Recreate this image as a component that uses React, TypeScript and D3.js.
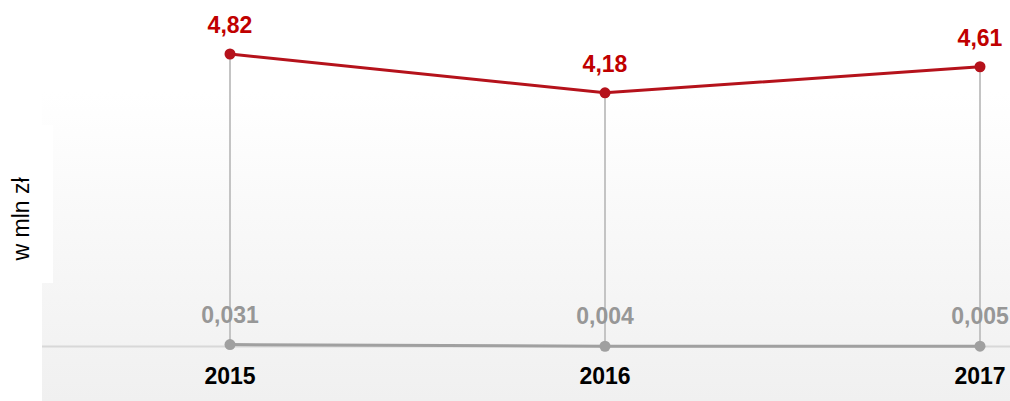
import React from "react";
import * as d3 from "d3";

const categories = ["2015", "2016", "2017"];
const redValues = [4.82, 4.18, 4.61];
const grayValues = [0.031, 0.004, 0.005];
const redLabels = ["4,82", "4,18", "4,61"];
const grayLabels = ["0,031", "0,004", "0,005"];
const yTitle = "w mln zł";

const W = 1010;
const H = 401;

export default function App() {
  const x = d3.scalePoint<string>().domain(categories).range([230, 980]);
  const y = d3.scaleLinear().domain([0, 4.82]).range([346.5, 54]);
  const line = d3
    .line<number>()
    .x((_, i) => x(categories[i]) as number)
    .y((d) => y(d));
  const font = "'Liberation Sans', Arial, sans-serif";
  return (
    <div style={{ position: "fixed", left: 0, top: 0 }}>
      <svg width={W} height={H} style={{ display: "block" }}>
        <defs>
          <linearGradient id="bg" x1="0" y1="0" x2="0" y2="1">
            <stop offset="0" stopColor="#ffffff" />
            <stop offset="1" stopColor="#f0f0f0" />
          </linearGradient>
        </defs>
        <rect x={0} y={0} width={W} height={H} fill="#ffffff" />
        <rect x={42} y={92} width={W - 42} height={H - 92} fill="url(#bg)" />
        <rect x={0} y={125} width={53} height={158} fill="#ffffff" />
        <line x1={42} x2={W} y1={y(0)} y2={y(0)} stroke="#d8d8d8" strokeWidth={2} />
        {categories.map((c, i) => (
          <line
            key={"v" + c}
            x1={x(c)}
            x2={x(c)}
            y1={y(redValues[i])}
            y2={y(0)}
            stroke="#c4c4c4"
            strokeWidth={2}
          />
        ))}
        <path d={line(grayValues) || ""} fill="none" stroke="#a0a0a0" strokeWidth={3} />
        <path d={line(redValues) || ""} fill="none" stroke="#b5121b" strokeWidth={3} />
        {categories.map((c, i) => (
          <g key={"p" + c}>
            <circle cx={x(c)} cy={y(grayValues[i])} r={5.5} fill="#a0a0a0" />
            <circle cx={x(c)} cy={y(redValues[i])} r={5.5} fill="#b5121b" />
            <text
              x={x(c)}
              y={y(redValues[i]) - 21}
              textAnchor="middle"
              fontFamily={font}
              fontWeight="bold"
              fontSize={23}
              fill="#c00000"
            >
              {redLabels[i]}
            </text>
            <text
              x={x(c)}
              y={y(grayValues[i]) - 22}
              textAnchor="middle"
              fontFamily={font}
              fontWeight="bold"
              fontSize={23}
              fill="#979797"
            >
              {grayLabels[i]}
            </text>
            <text
              x={x(c)}
              y={384}
              textAnchor="middle"
              fontFamily={font}
              fontWeight="bold"
              fontSize={23}
              fill="#000000"
            >
              {c}
            </text>
          </g>
        ))}
        <text
          transform="translate(29,219) rotate(-90)"
          textAnchor="middle"
          fontFamily={font}
          fontSize={23}
          fill="#000000"
        >
          {yTitle}
        </text>
      </svg>
    </div>
  );
}
